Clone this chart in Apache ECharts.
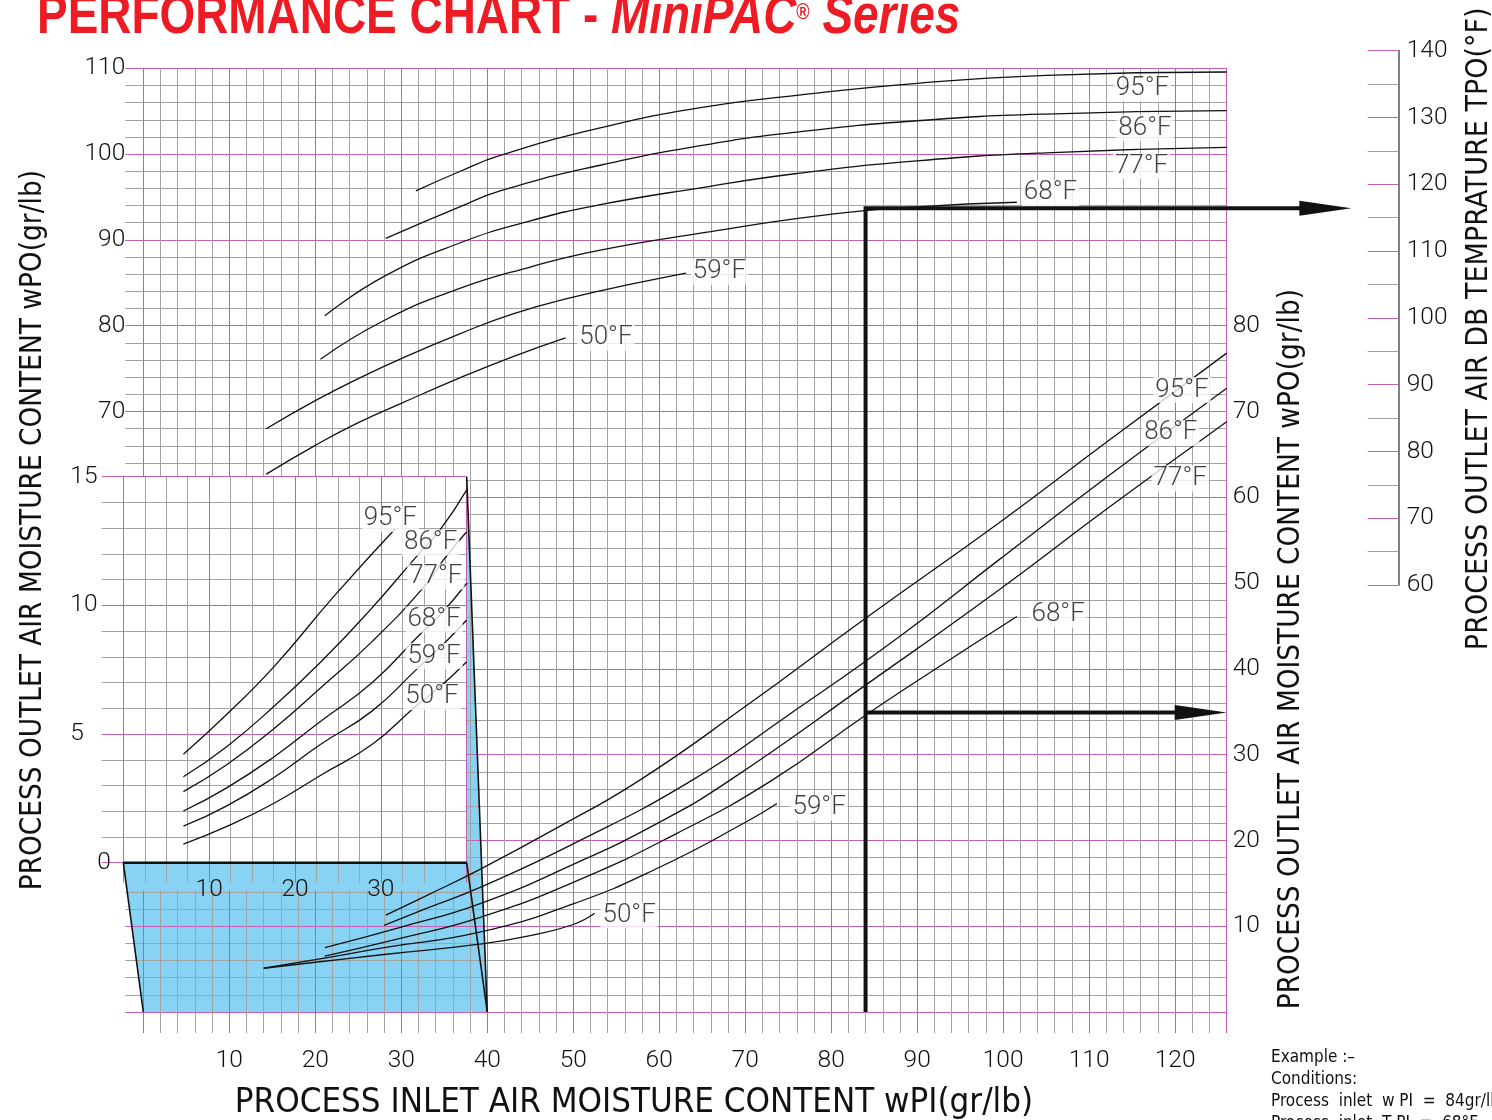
<!DOCTYPE html>
<html><head><meta charset="utf-8">
<script src="https://cdn.jsdelivr.net/npm/echarts@6/dist/echarts.min.js"></script>
<style>html,body{margin:0;padding:0;background:#fff}#c{width:1492px;height:1120px}</style>
</head><body><div id="c"></div>
<script>
// ---------------- DATA ----------------
const tempNames = ['95°F', '86°F', '77°F', '68°F', '59°F', '50°F'];

// Upper family: x = inlet moisture wPI (gr/lb), y = outlet temperature TPO (°F)
const upper95 = [[31.7,119.0],[36.8,121.9],[41.5,124.3],[53,128.4],[65,131.5],[76,133.3],[90,135.1],[105,136.3],[126,136.8]];
const upper86 = [[28.2,111.9],[36.8,116.6],[41.5,119.0],[53,122.8],[65,125.8],[76,127.8],[90,129.5],[105,130.5],[126,131.0]];
const upper77 = [[21.1,100.3],[28,106.2],[36.8,111.2],[45,114.5],[53,116.9],[65,119.5],[76,121.6],[90,123.5],[105,124.7],[126,125.5]];
const upper68 = [[20.6,93.8],[28,99.6],[36.8,104.4],[45,107.6],[53,110.1],[65,112.7],[78.7,115.3],[90,116.6],[101.6,117.3]];
const upper59 = [[14.3,83.4],[20,87.6],[25,90.9],[30,93.9],[36.8,97.6],[43,100.6],[50,103.1],[57,105.1],[63.1,106.7]];
const upper50 = [[14.3,76.6],[20,80.9],[25,84.3],[30,87.2],[36.8,91.0],[43,94.2],[49.1,97.0]];

// Lower family: x = inlet moisture wPI, y = outlet moisture wPO (gr/lb)
const lower95 = [[28.2,11.3],[33,13.6],[39.1,16.6],[48,21.4],[57.7,27.0],[70,35.6],[84,45.9],[99.5,57.0],[112,66.4],[126,76.8]];
const lower86 = [[28,10.1],[33,12.1],[39.1,14.5],[50,19.6],[63.8,27.0],[75,34.6],[88,43.8],[99.5,52.7],[112,62.3],[126,72.7]];
const lower77 = [[21.1,7.5],[30,9.9],[39.1,12.6],[50,17.2],[60,22.1],[68.2,27.0],[84,38.1],[99.5,49.2],[112,58.6],[126,68.8]];
const lower68 = [[21.1,6.5],[30,8.6],[39.1,11.0],[50,15.1],[62,20.8],[73.1,27.0],[84,34.6],[92,39.9],[101.6,46.1]];
const lower59 = [[14,5.1],[20,6.1],[28,7.5],[39.1,9.3],[50,12.6],[60.1,16.9],[70.2,22.2],[73.7,24.3]];
const lower50 = [[14,5.1],[20,5.8],[28,6.7],[39.1,7.9],[45,8.9],[50,10.2],[52.5,11.5]];

// Inset (enlarged low range): x = wPI 0-40, y = wPO 0-15
const inset95 = [[7,4.21],[12,5.75],[17.5,7.6],[24.5,10.34],[31.65,12.97]];
const inset86 = [[7,3.34],[12,4.5],[17.5,6.06],[23,7.8],[28.4,9.69],[34.4,11.99],[36.9,12.93],[40,14.49]];
const inset77 = [[7,2.76],[12,3.8],[17.5,5.2],[23,6.8],[29,8.6],[35.1,10.75],[37.3,11.77],[40,12.86]];
const inset68 = [[7,2.01],[12,2.9],[17.5,4.1],[23,5.5],[29,7.0],[34.6,8.89],[36.9,9.63],[40,10.86]];
const inset59 = [[7,1.42],[12,2.2],[17.5,3.3],[23,4.6],[29,5.9],[34.4,7.59],[37.2,8.46],[40,9.43]];
const inset50 = [[7,0.72],[12,1.4],[17.5,2.3],[23,3.4],[29,4.6],[34,6.06],[36.9,6.84],[40,7.81]];

// Curve label anchor positions (same order as tempNames)
const upperLabelPos = [[116.2,134.3],[116.5,128.4],[116.1,122.7],[105.5,118.7],[67.0,106.9],[53.8,97.0]];
const lowerLabelPos = [[120.8,72.5],[119.5,67.5],[120.6,62.2],[106.4,46.3],[78.6,23.8],[56.5,11.3]];
const insetLabelPos = [[31.1,13.36],[35.8,12.43],[36.4,11.12],[36.2,9.44],[36.2,8.03],[35.96,6.44]];

// Worked example
const exampleInlet = 84;        // wPI gr/lb
const exampleOutMoist = 34.9;   // wPO gr/lb
const exampleOutTemp = 116.4;   // TPO °F
const arrowTipTpo = 140.5;      // x (wPI units) where top arrow tip stops

const exampleLines = ['Example :–', 'Conditions:', 'Process  inlet  w PI  =  84gr/lb', 'Process  inlet  T PI  =  68°F'];

// ---------------- STYLE ----------------
const MAG = '#c65db3', GRAY = '#a3a3a3', INK = '#111', BLUE = '#88d3f3';
const TF = 'Roboto, "Liberation Sans", sans-serif';
const NF = '"Liberation Sans Narrow", "DejaVu Sans Condensed", "Liberation Sans", sans-serif';
const tickLbl = {fontFamily: TF, fontWeight: 300, fontSize: 24.5, color: INK};
const nameStyle = {fontFamily: NF, fontSize: 29.4, color: INK};

const chart = echarts.init(document.getElementById('c'), null, {renderer: 'canvas'});

function curve(data, xi, yi) {
  return {type: 'line', data, xAxisIndex: xi, yAxisIndex: yi, symbol: 'none', showSymbol: false,
    smooth: 0.5, lineStyle: {color: INK, width: 1.3}, z: 5, silent: true, animation: false};
}
function labels(pos, xi, yi) {
  return {type: 'scatter', xAxisIndex: xi, yAxisIndex: yi, symbolSize: 1, itemStyle: {color: 'rgba(0,0,0,0)'},
    z: 7, silent: true, animation: false,
    data: pos.map((p, i) => ({value: p, name: tempNames[i]})),
    label: {show: true, position: 'inside', formatter: '{b}', fontFamily: TF, fontWeight: 300, fontSize: 26,
      color: INK, backgroundColor: '#fff', padding: [0, 2, 0, 2]}};
}
function gridAxis(extra) {
  return Object.assign({type: 'value', axisLine: {show: false, onZero: false},
    axisTick: {show: true, length: 21, lineStyle: {color: MAG, width: 1}},
    minorTick: {show: true, length: 21, lineStyle: {color: GRAY, width: 1}},
    splitLine: {show: true, lineStyle: {color: MAG, width: 1}},
    minorSplitLine: {show: true, lineStyle: {color: GRAY, width: 1}}}, extra);
}

const option = {
  backgroundColor: '#fff',
  animation: false,
  grid: [
    {left: 143.3, top: 68.3, width: 1083.4, height: 943.7, show: false, outerBoundsMode: 'none', containLabel: false},
    {left: 123.3, top: 476.7, width: 343.4, height: 386, show: true, backgroundColor: '#fff', borderWidth: 0, z: 3, outerBoundsMode: 'none', containLabel: false},
    {left: 143.3, top: 50.6, width: 1083.4, height: 534.4, show: false, outerBoundsMode: 'none', containLabel: false}
  ],
  xAxis: [
    gridAxis({gridIndex: 0, min: 0, max: 126, interval: 10, z: 2,
      minorTick: {show: true, splitNumber: 5, length: 21, lineStyle: {color: GRAY, width: 1}},
      axisLabel: Object.assign({margin: 36, formatter: v => (v > 0 && v % 10 === 0 && v <= 120) ? String(v) : ''}, tickLbl),
      name: 'PROCESS INLET AIR MOISTURE CONTENT wPI(gr/lb)', nameLocation: 'middle', nameGap: 74,
      nameMoveOverlap: false,
      nameTextStyle: Object.assign({}, nameStyle, {fontSize: 34.6, padding: [0, 102, 0, 0]})}),
    gridAxis({gridIndex: 1, min: 0, max: 40, interval: 10, z: 4,
      minorTick: {show: true, splitNumber: 4, length: 20, lineStyle: {color: GRAY, width: 1}},
      axisTick: {show: true, length: 20, lineStyle: {color: MAG, width: 1}},
      axisLabel: Object.assign({margin: 15, formatter: v => (v > 0 && v < 40) ? String(v) : ''}, tickLbl)}),
    {type: 'value', gridIndex: 2, min: 0, max: 126, show: false, axisLine: {onZero: false}}
  ],
  yAxis: [
    gridAxis({gridIndex: 0, min: 0, max: 110, interval: 10, z: 2, position: 'left',
      axisTick: {show: true, length: 18, lineStyle: {color: MAG, width: 1}},
      minorTick: {show: true, splitNumber: 5, length: 18, lineStyle: {color: GRAY, width: 1}},
      axisLabel: Object.assign({margin: 18, formatter: v => (v >= 70) ? String(v) : ''}, tickLbl),
      name: 'PROCESS OUTLET AIR MOISTURE CONTENT wPO(gr/lb)', nameLocation: 'middle', nameRotate: 90, nameGap: 95,
      nameMoveOverlap: false,
      nameTextStyle: Object.assign({}, nameStyle, {padding: [0, 0, 0, 20]})}),
    {type: 'value', gridIndex: 0, min: 0, max: 110, interval: 10, position: 'right', z: 2,
      axisLine: {show: false, onZero: false}, axisTick: {show: false}, splitLine: {show: false},
      axisLabel: Object.assign({margin: 6, formatter: v => (v >= 10 && v <= 80) ? String(v) : ''}, tickLbl),
      name: 'PROCESS OUTLET AIR MOISTURE CONTENT wPO(gr/lb)', nameLocation: 'middle', nameRotate: 90, nameGap: 50,
      nameMoveOverlap: false,
      nameTextStyle: Object.assign({}, nameStyle, {padding: [0, 218, 0, 0]})},
    gridAxis({gridIndex: 1, min: 0, max: 15, interval: 5, z: 4, position: 'left',
      axisTick: {show: true, length: 21.6, lineStyle: {color: MAG, width: 1}},
      minorTick: {show: true, splitNumber: 5, length: 21.6, lineStyle: {color: GRAY, width: 1}},
      axisLabel: Object.assign({margin: 53, align: 'left',
        formatter: v => v === 0 ? '{z|0}' : String(v),
        rich: {z: {fontFamily: TF, fontWeight: 300, fontSize: 24.5, color: INK, padding: [0, 0, 0, 27]}}}, tickLbl)}),
    {type: 'value', gridIndex: 2, min: 60, max: 140, interval: 10, position: 'right', offset: 171.6, z: 2,
      axisLine: {show: true, onZero: false, lineStyle: {color: '#555', width: 1.5}},
      axisTick: {show: true, inside: true, length: 30.6, lineStyle: {color: MAG, width: 1}},
      minorTick: {show: true, splitNumber: 2, length: 30.6, lineStyle: {color: GRAY, width: 1}},
      splitLine: {show: false},
      axisLabel: Object.assign({margin: 8.4}, tickLbl),
      name: 'PROCESS OUTLET AIR DB TEMPRATURE TPO(°F)', nameLocation: 'middle', nameRotate: 90, nameGap: 66,
      nameMoveOverlap: false,
      nameTextStyle: Object.assign({}, nameStyle, {fontSize: 30, padding: [0, 22, 0, 0]})}
  ],
  series: [
    curve(upper95, 2, 3), curve(upper86, 2, 3), curve(upper77, 2, 3),
    curve(upper68, 2, 3), curve(upper59, 2, 3), curve(upper50, 2, 3),
    curve(lower95, 0, 0), curve(lower86, 0, 0), curve(lower77, 0, 0),
    curve(lower68, 0, 0), curve(lower59, 0, 0), curve(lower50, 0, 0),
    curve(inset95, 1, 2), curve(inset86, 1, 2), curve(inset77, 1, 2),
    curve(inset68, 1, 2), curve(inset59, 1, 2), curve(inset50, 1, 2),
    labels(upperLabelPos, 2, 3), labels(lowerLabelPos, 0, 0), labels(insetLabelPos, 1, 2)
  ],
  graphic: [
    {type: 'text', id: 'title', x: 37, y: -10.4, scaleX: 0.82, originX: 0, originY: 0, z: 20, silent: true,
      style: {text: '{a|PERFORMANCE CHART - }{b|MiniPAC}{r|®}{b| Series}', textVerticalAlign: 'top',
        rich: {
          a: {fontFamily: '"Liberation Sans", Arial, sans-serif', fontWeight: 'bold', fontSize: 56, lineHeight: 56, fill: '#ed1c24'},
          b: {fontFamily: '"Liberation Sans", Arial, sans-serif', fontWeight: 'bold', fontStyle: 'italic', fontSize: 56, lineHeight: 56, fill: '#ed1c24'},
          r: {fontFamily: '"Liberation Sans", Arial, sans-serif', fontWeight: 'bold', fontSize: 22, lineHeight: 56, verticalAlign: 'top', fill: '#ed1c24', padding: [12, 0, 0, 0]}
        }}},
    {type: 'text', id: 'example', x: 1271, y: 1047, z: 20, silent: true,
      style: {text: exampleLines.join('\n'), fontFamily: NF, fontSize: 17, lineHeight: 22, fill: INK, textVerticalAlign: 'top'}}
  ]
};
chart.setOption(option);

// second pass: decorations that link the inset to the main grid, and the worked-example arrows
const pMain = v => chart.convertToPixel({xAxisIndex: 0, yAxisIndex: 0}, v);
const pInset = v => chart.convertToPixel({xAxisIndex: 1, yAxisIndex: 2}, v);
const pTpo = v => chart.convertToPixel({xAxisIndex: 2, yAxisIndex: 3}, v);

const i00 = pInset([0, 0]), i40 = pInset([40, 0]), i4015 = pInset([40, 15]);
const m00 = pMain([0, 0]), m40 = pMain([40, 0]);
const bandY = pMain([0, 14.2])[1];
const lerpX = (a, b, y) => a[0] + (b[0] - a[0]) * (y - a[1]) / (b[1] - a[1]);

function arrowHead(tip, dir, len, hw) {
  const ux = dir[0], uy = dir[1];
  const bx = tip[0] - ux * len, by = tip[1] - uy * len;
  return [[tip[0], tip[1]], [bx - uy * hw, by + ux * hw], [bx + uy * hw, by - ux * hw]];
}
const vBottom = pMain([exampleInlet, 0]);
const vTop = pTpo([exampleInlet, exampleOutTemp]);
const topTip = pTpo([arrowTipTpo, exampleOutTemp]);
const lowStart = pMain([exampleInlet, exampleOutMoist]);
const lowTip = pMain([126, exampleOutMoist]);

const stroke = (pts, w, z) => ({type: 'polyline', silent: true, z, shape: {points: pts}, style: {stroke: INK, lineWidth: w, fill: null}});

chart.setOption({graphic: [
  {type: 'polygon', id: 'blue', z: 1, silent: true, shape: {points: [i00, i40, i4015, m40, m00]}, style: {fill: BLUE}},
  {type: 'polygon', id: 'band', z: 3.5, silent: true,
    shape: {points: [i00, i40, [i40[0], bandY], [lerpX(i00, m00, bandY), bandY]]}, style: {fill: BLUE}},
  Object.assign(stroke([i00, m00], 1.6, 6), {id: 'o1'}),
  Object.assign(stroke([i4015, m40], 1.6, 6), {id: 'o2'}),
  Object.assign(stroke([i40, m40], 1.6, 6), {id: 'o3'}),
  Object.assign(stroke([i00, i40], 2.5, 6), {id: 'o4'}),
  Object.assign(stroke([vBottom, vTop, [topTip[0] - 30, topTip[1]]], 4, 8), {id: 'a1'}),
  {type: 'polygon', id: 'a1h', z: 8, silent: true, shape: {points: arrowHead(topTip, [1, 0], 52, 7.5)}, style: {fill: INK}},
  Object.assign(stroke([lowStart, [lowTip[0] - 30, lowTip[1]]], 4, 8), {id: 'a2'}),
  {type: 'polygon', id: 'a2h', z: 8, silent: true, shape: {points: arrowHead(lowTip, [1, 0], 52, 7.5)}, style: {fill: INK}}
]});
</script></body></html>
